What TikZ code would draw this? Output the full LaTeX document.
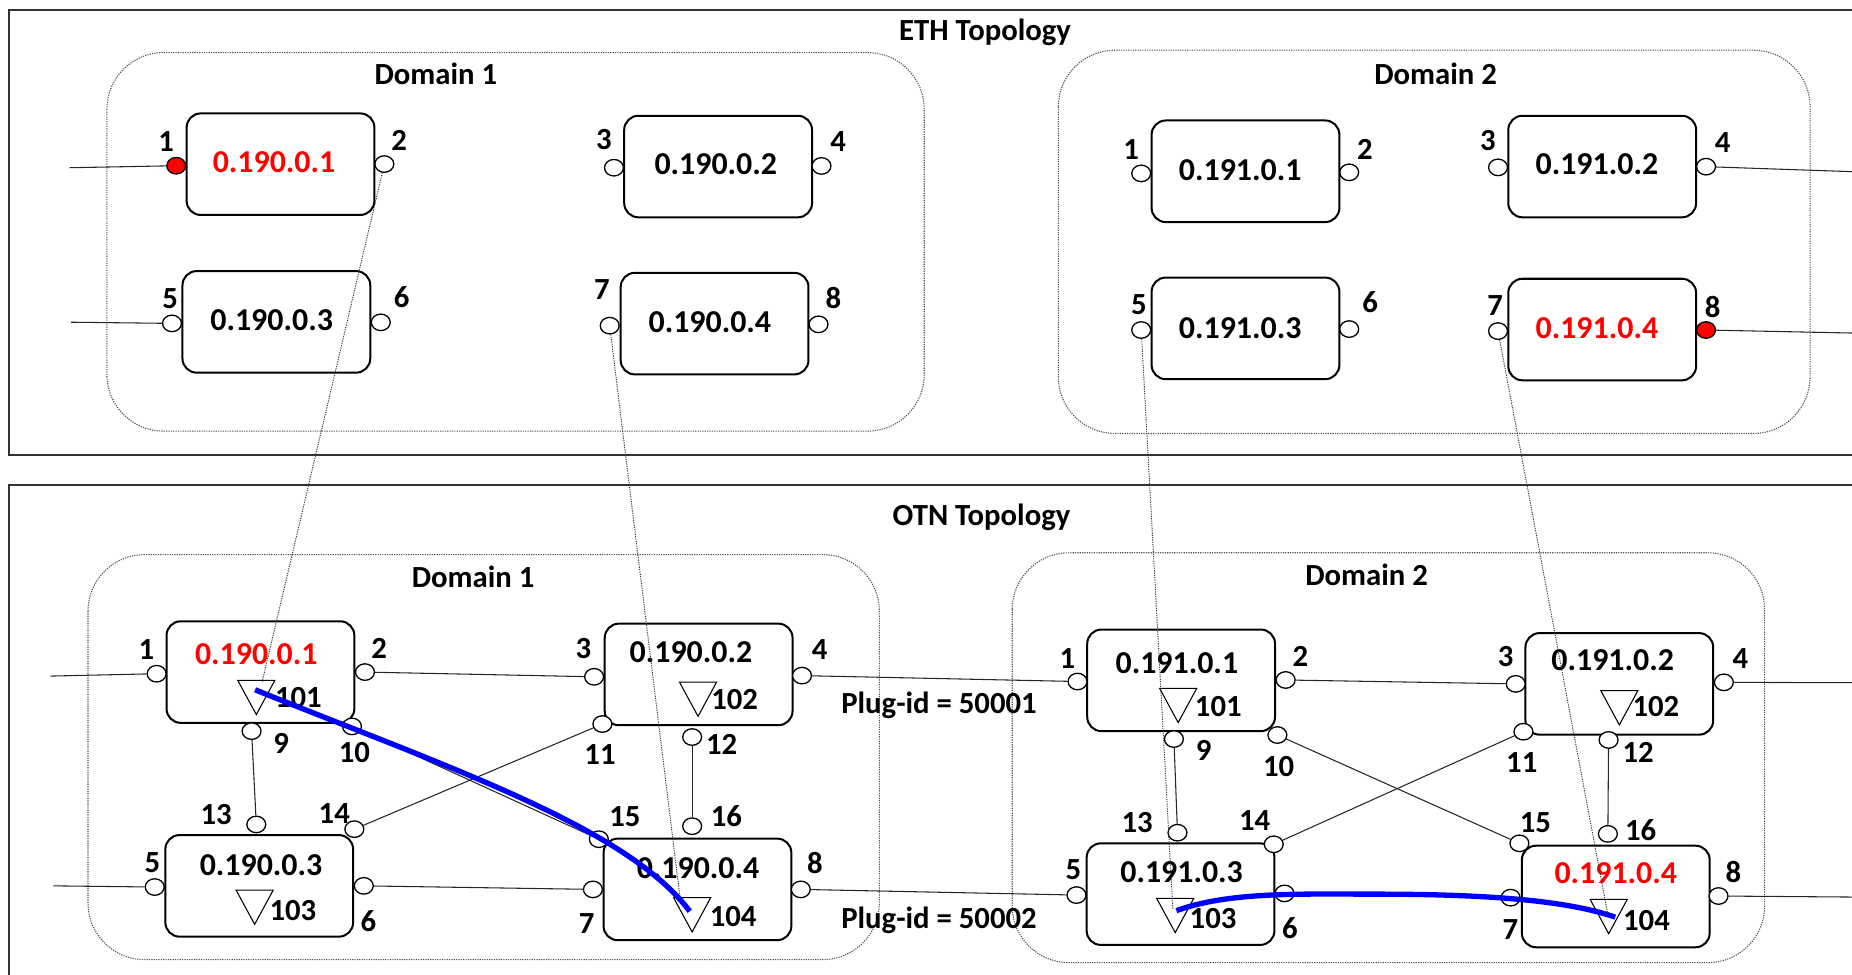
\documentclass[tikz,border=0pt]{standalone}
\usepackage{fontspec}
\setmainfont{Carlito}
\usetikzlibrary{shapes.geometric}
\newcommand\tria[2]{\draw[tribox] (#1-15.7,#2) -- (#1+15.7,#2) -- (#1,#2+29) -- cycle;}
\begin{document}
\begin{tikzpicture}[x=1pt,y=-1pt,
  nebox/.style={draw, line width=1.7pt, rounded corners=12pt, minimum width=159pt, minimum height=86pt, inner sep=0pt},
  port/.style={draw, ellipse, line width=1.1pt, fill=white, minimum width=16pt, minimum height=14pt, inner sep=0pt},
  redport/.style={port, fill=red},
  lbl/.style={font=\fontsize{26}{28}\selectfont\bfseries, inner sep=0pt},
  iplbl/.style={font=\fontsize{27}{29}\selectfont\bfseries, inner sep=0pt},
  domainbox/.style={draw=black!70, line width=0.9pt, dash pattern=on 1pt off 1pt, rounded corners=48pt},
  outerframe/.style={draw=black!80, line width=1.8pt},
  link/.style={draw=black!85, line width=0.9pt},
  crosslink/.style={draw=black!80, line width=0.8pt, dash pattern=on 1pt off 1pt},
  tribox/.style={draw, line width=0.9pt},
  bluepath/.style={draw=blue, line width=4.5pt}
]
\useasboundingbox (0,0) rectangle (1568,825);
\clip (0,0) rectangle (1568,825);

% frames
\draw[outerframe] (1600,8.5) -- (7.5,8.5) -- (7.5,385) -- (1600,385);
\draw[outerframe] (1600,410.5) -- (7.5,410.5) -- (7.5,850);
\node[lbl, anchor=base] (ethtitle) at (834,34.5) {ETH Topology};
\node[lbl, anchor=base] (otntitle) at (831,444.5) {OTN Topology};

% domains
\draw[domainbox] (90.5,44.5) rectangle (782.5,365);
\draw[domainbox] (896,42.5) rectangle (1532.5,367);
\draw[domainbox] (74.5,469.5) rectangle (744.5,812.5);
\draw[domainbox] (857,468) rectangle (1494,815);
\node[lbl] (ed1) at (369,62.8) {Domain 1};
\node[lbl] (ed2) at (1215.4,62.8) {Domain 2};
\node[lbl] (od1) at (400.5,488.5) {Domain 1};
\node[lbl] (od2) at (1157,486.4) {Domain 2};

% ETH boxes
\node[nebox] (e11) at (237.5,139) {};
\node[nebox] (e12) at (608,141) {};
\node[nebox] (e13) at (234,272.5) {};
\node[nebox] (e14) at (605,274) {};
\node[nebox] (e21) at (1054.5,145) {};
\node[nebox] (e22) at (1356.5,141) {};
\node[nebox] (e23) at (1054.5,278) {};
\node[nebox] (e24) at (1356.5,279) {};
\node[iplbl, red] (e11t) at (232,137) {0.190.0.1};
\node[iplbl] (e12t) at (606,139) {0.190.0.2};
\node[iplbl] (e13t) at (230,271) {0.190.0.3};
\node[iplbl] (e14t) at (601,273) {0.190.0.4};
\node[iplbl] (e21t) at (1050,144) {0.191.0.1};
\node[iplbl] (e22t) at (1352,139) {0.191.0.2};
\node[iplbl] (e23t) at (1050,278) {0.191.0.3};
\node[iplbl, red] (e24t) at (1352,278) {0.191.0.4};

% ETH ports
\node[redport] (e1p1) at (149.2,140.3) {};
\node[port] (e1p2) at (325.4,138.9) {};
\node[port] (e1p3) at (519.8,142) {};
\node[port] (e1p4) at (695.5,140.5) {};
\node[port] (e1p5) at (145.6,273.8) {};
\node[port] (e1p6) at (322.4,272.9) {};
\node[port] (e1p7) at (516.2,275.7) {};
\node[port] (e1p8) at (693,274.6) {};
\node[port] (e2p1) at (966.2,146.8) {};
\node[port] (e2p2) at (1142.3,145.9) {};
\node[port] (e2p3) at (1268.3,141.7) {};
\node[port] (e2p4) at (1444.4,141.1) {};
\node[port] (e2p5) at (966.2,279.4) {};
\node[port] (e2p6) at (1142.3,278.6) {};
\node[port] (e2p7) at (1268.3,280.3) {};
\node[redport] (e2p8) at (1444.4,279.4) {};
\node[lbl] (e1l1) at (140.6,120) {1};
\node[lbl] (e1l2) at (338,118.5) {2};
\node[lbl] (e1l3) at (511.2,118.5) {3};
\node[lbl] (e1l4) at (709.6,120) {4};
\node[lbl] (e1l5) at (144.1,252.6) {5};
\node[lbl] (e1l6) at (340,251.2) {6};
\node[lbl] (e1l7) at (509.7,245.5) {7};
\node[lbl] (e1l8) at (705.6,252.6) {8};
\node[lbl] (e2l1) at (957.6,127) {1};
\node[lbl] (e2l2) at (1155.5,126.2) {2};
\node[lbl] (e2l3) at (1259.7,119.4) {3};
\node[lbl] (e2l4) at (1458.5,120.5) {4};
\node[lbl] (e2l5) at (964.2,258.2) {5};
\node[lbl] (e2l6) at (1160,255.4) {6};
\node[lbl] (e2l7) at (1265.8,259) {7};
\node[lbl] (e2l8) at (1450,260.2) {8};

% ETH external links
\coordinate (e1x1) at (59,142);
\coordinate (e1x5) at (60.2,272.8);
\coordinate (e2x4) at (1570,145.4);
\coordinate (e2x8) at (1570,282);
\draw[link] (e1x1) -- (e1p1);
\draw[link] (e1x5) -- (e1p5);
\draw[link] (e2p4) -- (e2x4);
\draw[link] (e2p8) -- (e2x8);

% OTN boxes
\node[nebox] (o11) at (220.5,569) {};
\node[nebox] (o12) at (591.5,571) {};
\node[nebox] (o13) at (219.5,750) {};
\node[nebox] (o14) at (590.5,753) {};
\node[nebox] (o21) at (1000,576) {};
\node[nebox] (o22) at (1371,579) {};
\node[nebox] (o23) at (999.5,757) {};
\node[nebox] (o24) at (1368,759) {};
\node[iplbl, red] (o11t) at (217,554) {0.190.0.1};
\node[iplbl] (o12t) at (585,552) {0.190.0.2};
\node[iplbl] (o13t) at (221,732.4) {0.190.0.3};
\node[iplbl] (o14t) at (591,734.7) {0.190.0.4};
\node[iplbl] (o21t) at (996.4,561.5) {0.191.0.1};
\node[iplbl] (o22t) at (1365.4,558.8) {0.191.0.2};
\node[iplbl] (o23t) at (1000.4,738) {0.191.0.3};
\node[iplbl, red] (o24t) at (1368,739.4) {0.191.0.4};

% triangles
\tria{217}{576}
\tria{591}{577.5}
\tria{215.6}{753.6}
\tria{586}{760}
\tria{997.5}{582.8}
\tria{1371}{584.7}
\tria{995}{760.6}
\tria{1362}{761.5}
\node[lbl] (o11n) at (252.6,590.6) {101};
\node[lbl] (o12n) at (622,592) {102};
\node[lbl] (o13n) at (248,770.5) {103};
\node[lbl] (o14n) at (620.7,776) {104};
\node[lbl] (o21n) at (1031.5,598.3) {101};
\node[lbl] (o22n) at (1402,598) {102};
\node[lbl] (o23n) at (1027,777.5) {103};
\node[lbl] (o24n) at (1394,779) {104};

% OTN ports domain 1
\node[port] (o1p1) at (132.6,570.4) {};
\node[port] (o1p2) at (309,569) {};
\node[port] (o1p3) at (503,573) {};
\node[port] (o1p4) at (679,572) {};
\node[port] (o1p9) at (213,619) {};
\node[port] (o1p10) at (298,615) {};
\node[port] (o1p11) at (510,613) {};
\node[port] (o1p12) at (586,624) {};
\node[port] (o1p13) at (217,698) {};
\node[port] (o1p14) at (300,702) {};
\node[port] (o1p15) at (507,710.5) {};
\node[port] (o1p16) at (586,699.5) {};
\node[port] (o1p5) at (131,751) {};
\node[port] (o1p6) at (308,750) {};
\node[port] (o1p7) at (502,753) {};
\node[port] (o1p8) at (678,753) {};
% OTN ports domain 2
\node[port] (o2p1) at (912.3,577) {};
\node[port] (o2p2) at (1088.5,575.7) {};
\node[port] (o2p3) at (1283.3,579) {};
\node[port] (o2p4) at (1459.5,577.7) {};
\node[port] (o2p9) at (993.9,625.7) {};
\node[port] (o2p10) at (1081.5,622.3) {};
\node[port] (o2p11) at (1289.8,619.5) {};
\node[port] (o2p12) at (1361.9,626.5) {};
\node[port] (o2p13) at (996.9,705) {};
\node[port] (o2p14) at (1078.4,714.8) {};
\node[port] (o2p15) at (1286.4,714) {};
\node[port] (o2p16) at (1361.3,706) {};
\node[port] (o2p5) at (911.4,757.8) {};
\node[port] (o2p6) at (1087.5,756.4) {};
\node[port] (o2p7) at (1279,760) {};
\node[port] (o2p8) at (1455,758.6) {};

% OTN port labels
\node[lbl] (o1l1) at (124,550) {1};
\node[lbl] (o1l2) at (321,549) {2};
\node[lbl] (o1l3) at (494,549) {3};
\node[lbl] (o1l4) at (694,550) {4};
\node[lbl] (o1l9) at (238,629) {9};
\node[lbl] (o1l10) at (300,637) {10};
\node[lbl] (o1l11) at (508,639) {11};
\node[lbl] (o1l12) at (611,630) {12};
\node[lbl] (o1l13) at (183,690) {13};
\node[lbl] (o1l14) at (283,689) {14};
\node[lbl] (o1l15) at (529,691) {15};
\node[lbl] (o1l16) at (615,691) {16};
\node[lbl] (o1l5) at (129,730) {5};
\node[lbl] (o1l6) at (312,780) {6};
\node[lbl] (o1l7) at (496.6,781.7) {7};
\node[lbl] (o1l8) at (690,731) {8};
\node[lbl] (o2l1) at (903.7,557.4) {1};
\node[lbl] (o2l2) at (1101,556) {2};
\node[lbl] (o2l3) at (1274.7,556) {3};
\node[lbl] (o2l4) at (1473.6,557.4) {4};
\node[lbl] (o2l9) at (1019,635) {9};
\node[lbl] (o2l10) at (1082.5,649) {10};
\node[lbl] (o2l11) at (1288.4,645.7) {11};
\node[lbl] (o2l12) at (1387,637.3) {12};
\node[lbl] (o2l13) at (962.7,696.5) {13};
\node[lbl] (o2l14) at (1062.3,694.3) {14};
\node[lbl] (o2l15) at (1300,696.5) {15};
\node[lbl] (o2l16) at (1389,702.7) {16};
\node[lbl] (o2l5) at (908.8,736.6) {5};
\node[lbl] (o2l6) at (1092,786) {6};
\node[lbl] (o2l7) at (1278.8,787.4) {7};
\node[lbl] (o2l8) at (1467.5,738) {8};

\node[lbl, anchor=base] (plug1) at (795,604) {Plug-id = 50001};
\node[lbl, anchor=base] (plug2) at (795,786) {Plug-id = 50002};

% OTN links
\coordinate (o1x1) at (42.7,572.4);
\coordinate (o1x5) at (45.2,750);
\coordinate (o2x4) at (1570,578);
\coordinate (o2x8) at (1570,759.5);
\draw[link] (o1x1) -- (o1p1);
\draw[link] (o1x5) -- (o1p5);
\draw[link] (o2p4) -- (o2x4);
\draw[link] (o2p8) -- (o2x8);
\draw[link] (o1p2) -- (o1p3);
\draw[link] (o1p9) -- (o1p13);
\draw[link] (o1p10) -- (o1p15);
\draw[link] (o1p11) -- (o1p14);
\draw[link] (o1p12) -- (o1p16);
\draw[link] (o1p6) -- (o1p7);
\draw[link] (o1p4) -- (o2p1);
\draw[link] (o1p8) -- (o2p5);
\draw[link] (o2p2) -- (o2p3);
\draw[link] (o2p9) -- (o2p13);
\draw[link] (o2p10) -- (o2p15);
\draw[link] (o2p11) -- (o2p14);
\draw[link] (o2p12) -- (o2p16);

% inter-layer dotted links
\coordinate (t1) at (222,577);
\coordinate (t2) at (576,762);
\coordinate (t3) at (993,770);
\coordinate (t4) at (1361,773);
\draw[crosslink] (e1p2) -- (t1);
\draw[crosslink] (e1p7) -- (t2);
\draw[crosslink] (e2p5) -- (t3);
\draw[crosslink] (e2p7) -- (t4);

% blue paths
\coordinate (b1s) at (216,584);
\coordinate (b1e) at (584,771.5);
\coordinate (b2s) at (996,771);
\coordinate (b2m) at (1160,757);
\coordinate (b2e) at (1367.5,776.5);
\draw[bluepath] (b1s) .. controls (380,650) and (530,700) .. (b1e);
\draw[bluepath] (b2s) .. controls (1040,755) and (1100,757) .. (b2m) .. controls (1240,757) and (1320,760) .. (b2e);
\end{tikzpicture}
\end{document}
